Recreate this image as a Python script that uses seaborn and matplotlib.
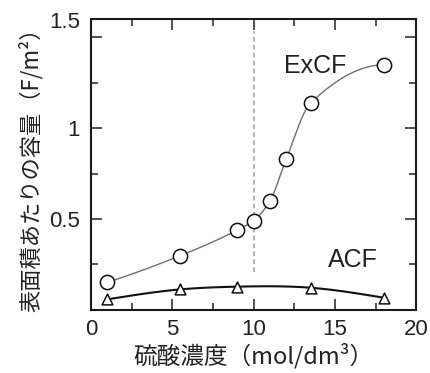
import numpy as np
import pandas as pd
import matplotlib
matplotlib.use("Agg")
import matplotlib.pyplot as plt
from matplotlib.ticker import MultipleLocator
from matplotlib.transforms import ScaledTranslation
import seaborn as sns

# ---- data ----
excf_x = [1, 5.5, 9, 10, 11, 12, 13.5, 18]
excf_y = [0.151, 0.298, 0.439, 0.491, 0.599, 0.829, 1.139, 1.349]
acf_x = [1, 5.5, 9, 13.5, 18]
acf_y = [0.057, 0.112, 0.127, 0.121, 0.066]
x_ticks = [0, 5, 10, 15, 20]
y_ticks = [0.5, 1.0, 1.5]
y_tick_labels = ["0.5", "1", "1.5"]
x_label = "硫酸濃度（mol/dm³）"
y_label = "表面積あたりの容量（F/m²）"


def pchip_curve(x, y, n=400):
    x = np.asarray(x, float); y = np.asarray(y, float)
    h = np.diff(x); dl = np.diff(y) / h
    d = np.zeros_like(y)
    for k in range(1, len(x) - 1):
        if dl[k - 1] * dl[k] > 0:
            w1 = 2 * h[k] + h[k - 1]; w2 = h[k] + 2 * h[k - 1]
            d[k] = (w1 + w2) / (w1 / dl[k - 1] + w2 / dl[k])
    def end(h0, h1, d0, d1):
        v = ((2 * h0 + h1) * d0 - h0 * d1) / (h0 + h1)
        if np.sign(v) != np.sign(d0):
            v = 0.0
        elif np.sign(d0) != np.sign(d1) and abs(v) > abs(3 * d0):
            v = 3 * d0
        return v
    d[0] = end(h[0], h[1], dl[0], dl[1])
    d[-1] = end(h[-1], h[-2], dl[-1], dl[-2])
    xs = np.linspace(x[0], x[-1], n)
    i = np.clip(np.searchsorted(x, xs) - 1, 0, len(x) - 2)
    t = (xs - x[i]) / h[i]
    h00 = 2 * t**3 - 3 * t**2 + 1; h10 = t**3 - 2 * t**2 + t
    h01 = -2 * t**3 + 3 * t**2; h11 = t**3 - t**2
    ys = h00 * y[i] + h10 * h[i] * d[i] + h01 * y[i + 1] + h11 * h[i] * d[i + 1]
    return xs, ys


def natural_curve(x, y, n=400):
    x = np.asarray(x, float); y = np.asarray(y, float)
    m = len(x); h = np.diff(x)
    A = np.zeros((m, m)); b = np.zeros(m)
    A[0, 0] = A[-1, -1] = 1
    for k in range(1, m - 1):
        A[k, k - 1] = h[k - 1]; A[k, k] = 2 * (h[k - 1] + h[k]); A[k, k + 1] = h[k]
        b[k] = 6 * ((y[k + 1] - y[k]) / h[k] - (y[k] - y[k - 1]) / h[k - 1])
    M = np.linalg.solve(A, b)
    xs = np.linspace(x[0], x[-1], n)
    i = np.clip(np.searchsorted(x, xs) - 1, 0, m - 2)
    a = x[i + 1] - xs; c = xs - x[i]; hi = h[i]
    ys = (M[i] * a**3 + M[i + 1] * c**3) / (6 * hi) + (y[i] / hi - M[i] * hi / 6) * a + (y[i + 1] / hi - M[i + 1] * hi / 6) * c
    return xs, ys


sns.set_theme(style="ticks")
plt.rcParams["font.family"] = ["Liberation Sans", "Noto Sans CJK JP", "DejaVu Sans"]

fig = plt.figure(figsize=(4.31, 3.73), dpi=100)
ax = fig.add_axes([0.2111, 0.1697, 0.7549, 0.7786])

ex_sx, ex_sy = pchip_curve(excf_x, excf_y)
ac_sx, ac_sy = natural_curve(acf_x, acf_y)

ax.vlines(10, 0.209, 1.538, colors="#9a9a9a", linestyles=(0, (3, 2.2)), linewidth=1.1, zorder=1)

sns.lineplot(x=ex_sx, y=ex_sy, ax=ax, color="#6f6f6f", linewidth=1.0, zorder=2)
sns.lineplot(x=ac_sx, y=ac_sy, ax=ax, color="#111111", linewidth=1.5, zorder=2)

df_ex = pd.DataFrame({"x": excf_x, "y": excf_y})
df_ac = pd.DataFrame({"x": acf_x, "y": acf_y})
sns.scatterplot(data=df_ex, x="x", y="y", ax=ax, marker="o", s=105,
                facecolor="white", edgecolor="#111111", linewidth=1.1, zorder=3)
sns.scatterplot(data=df_ac, x="x", y="y", ax=ax, marker="^", s=60,
                facecolor="white", edgecolor="#111111", linewidth=1.1, zorder=3)

ax.text(13.8, 1.34, "ExCF", fontsize=18, ha="center", va="center", color="#222222")
ax.text(16.1, 0.273, "ACF", fontsize=18, ha="center", va="center", color="#222222")

ax.set_xlim(0, 20)
ax.set_ylim(0, 1.6)
ax.set_xticks(x_ticks)
ax.set_yticks(y_ticks)
ax.set_yticklabels(y_tick_labels)
ax.xaxis.set_minor_locator(MultipleLocator(2.5))
ax.yaxis.set_minor_locator(MultipleLocator(0.25))
ax.tick_params(which="both", direction="in", top=True, right=True, color="#222222", width=1.1)
ax.tick_params(which="major", length=8, labelsize=16, labelcolor="#222222")
ax.tick_params(which="minor", length=5)
ax.tick_params(axis="y", which="major", pad=8)
ax.tick_params(axis="x", which="major", pad=7)
for sp in ax.spines.values():
    sp.set_linewidth(1.5)
    sp.set_color("#1a1a1a")

# the reference draws its "1.5" label at the top edge
top_lab = ax.get_yticklabels()[-1]
top_lab.set_transform(top_lab.get_transform() + ScaledTranslation(0, 17 / 100, fig.dpi_scale_trans))

ax.set_xlabel(x_label, fontsize=17, family=["Noto Sans CJK JP", "DejaVu Sans"], labelpad=2, color="#222222")
ax.set_ylabel(y_label, fontsize=16, family=["Noto Sans CJK JP", "DejaVu Sans"], labelpad=4, color="#222222")

fig.savefig("out.png", dpi=100)
